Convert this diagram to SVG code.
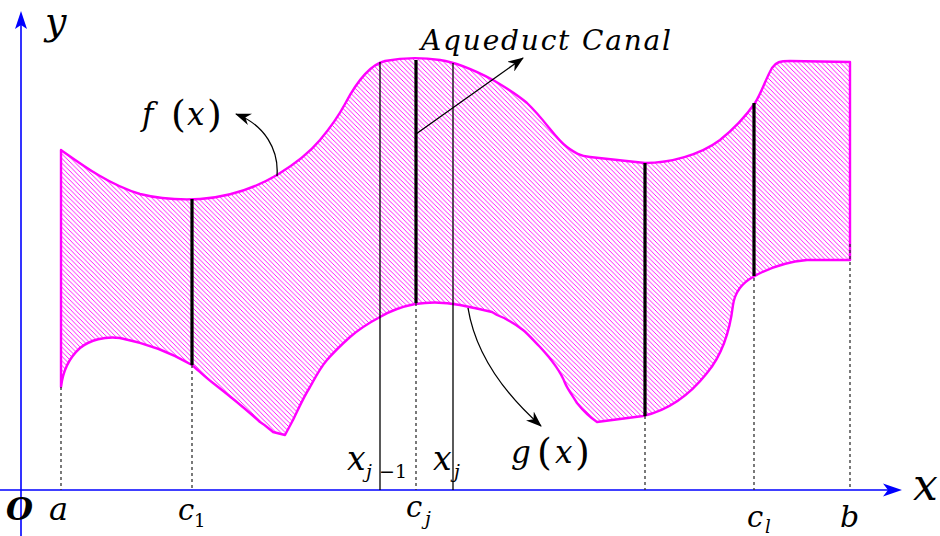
<svg xmlns="http://www.w3.org/2000/svg" width="940" height="536" viewBox="0 0 940 536">
<defs>
<style>
.t{font-family:"DejaVu Serif",serif;font-style:italic;fill:#000}
.n{font-style:normal}
.thick{stroke:#000;stroke-width:3.2;fill:none}
.thin{stroke:#000;stroke-width:1.3;fill:none}
.dot{stroke:#333;stroke-width:1.3;stroke-dasharray:3 3;fill:none}
.axis{stroke:#0000ff;stroke-width:1.6;fill:none}
.conn{stroke:#000;stroke-width:1.3;fill:none;marker-end:url(#ah)}
</style>
<pattern id="hatch" patternUnits="userSpaceOnUse" width="4.6" height="4.6">
<path d="M-1,-1 L5.6,5.6 M-1,3.6 L1,5.6 M3.6,-1 L5.6,1" stroke="#ff00ff" stroke-width="0.9" fill="none"/>
</pattern>
<marker id="ah" markerUnits="userSpaceOnUse" markerWidth="16" markerHeight="12" viewBox="0 0 16 12" refX="15" refY="6" orient="auto">
<path d="M0,0 L16,6 L0,12 L5,6 Z" fill="#000"/>
</marker>
</defs>
<rect width="940" height="536" fill="#fff"/>

<g id="region">
<path d="M61,150 C85,167 110,185 140,194 C160,199 180,200 200,199 C230,197 255,188 277,175 C295,164 310,152 320,140 C330,128 338,117 345,104 C355,85 368,65 385,61 C400,58 420,57 440,60 C460,63 478,72 493,80 C510,90 520,97 527,103 C545,120 555,138 567,147 C575,153 580,156 590,157 L645,163 C670,163 700,155 720,140 C735,128 748,113 755,103 C762,92 766,78 772,68 C776,62 780,61 790,61 L850,62 L850,260 L807,260 C785,262 765,270 753,277 C742,283 735,292 733,305 C730,330 722,355 707,373 C692,392 670,410 643,416 L597,422 C588,416 581,408 577,403 C572,395 567,388 565,383 C560,370 552,360 540,347 C533,340 528,334 523,330 C515,324 505,318 497,315 L492,312 C480,309 470,307 460,305 C445,302 428,302 415,304 C400,307 390,311 380,317 C365,325 357,331 350,337 C340,346 333,353 327,360 C320,368 315,378 310,387 C303,398 298,410 293,420 L285,435 L273,432 C268,428 265,425 260,422 C250,413 235,400 213,383 C205,377 198,370 192,365 C175,355 150,344 120,338 C105,336 90,340 80,348 C70,357 63,370 61,387 Z" fill="url(#hatch)" stroke="#ff00ff" stroke-width="2.4" stroke-linejoin="round"/>
</g>

<g id="axes">
<line class="axis" x1="0" y1="490" x2="892" y2="490"/>
<path d="M902,490 L883,483.5 L888,490 L883,496.5 Z" fill="#0000ff"/>
<line class="axis" x1="21" y1="536" x2="21" y2="20"/>
<path d="M21,11 L15,29 L21,25 L27,29 Z" fill="#0000ff"/>
</g>

<g id="verticals">
<line class="dot" x1="61" y1="387" x2="61" y2="490"/>
<line class="dot" x1="192" y1="365" x2="192" y2="490"/>
<line class="dot" x1="416" y1="303" x2="416" y2="490"/>
<line class="dot" x1="645" y1="416" x2="645" y2="490"/>
<line class="dot" x1="754" y1="254" x2="754" y2="490"/>
<line class="dot" x1="850" y1="244" x2="850" y2="490"/>
<line class="thin" x1="380" y1="62" x2="380" y2="490"/>
<line class="thin" x1="453" y1="63" x2="453" y2="490"/>
<line class="thick" x1="192" y1="199" x2="192" y2="365"/>
<line class="thick" x1="416" y1="60" x2="416" y2="303"/>
<line class="thick" x1="645" y1="163" x2="645" y2="416"/>
<line class="thick" x1="754" y1="103" x2="754" y2="276"/>
</g>

<g id="connectors">
<path class="conn" d="M277,176 C279,150 265,125 236,114"/>
<path class="conn" d="M416,134 L523,58"/>
<path class="conn" d="M468,308 C474,345 495,385 541,426"/>
</g>

<g id="labels">
<text class="t" x="45" y="34" font-size="38">y</text>
<text class="t" x="913" y="500" font-size="44">x</text>
<text class="t" x="6" y="520" font-size="31" font-weight="bold">O</text>
<text class="t" x="49" y="520" font-size="32">a</text>
<text class="t" x="178" y="520" font-size="29">c<tspan class="n" x="194" y="527" font-size="18">1</tspan></text>
<text class="t" x="406" y="517" font-size="29">c<tspan x="425" y="525" font-size="19">j</tspan></text>
<text class="t" x="747" y="527" font-size="29">c<tspan x="765" y="533" font-size="18">l</tspan></text>
<text class="t" x="840" y="527" font-size="30">b</text>
<text class="t" x="347" y="470" font-size="33">x<tspan x="366" y="478" font-size="19">j</tspan><tspan class="n" x="379" y="478" font-size="19">−1</tspan></text>
<text class="t" x="433" y="470" font-size="33">x<tspan x="454" y="478" font-size="19">j</tspan></text>
<text class="t" x="142" y="125" font-size="31">f<tspan class="n" x="171" y="127" font-size="38">(</tspan><tspan x="187" y="125">x</tspan><tspan class="n" x="207" y="127" font-size="38">)</tspan></text>
<text class="t" x="511" y="463" font-size="31">g<tspan class="n" x="537" y="465" font-size="38">(</tspan><tspan x="555" y="463">x</tspan><tspan class="n" x="575" y="465" font-size="38">)</tspan></text>
<text class="t" x="421" y="50" font-size="28" textLength="250" lengthAdjust="spacing">Aqueduct Canal</text>
</g>
</svg>
